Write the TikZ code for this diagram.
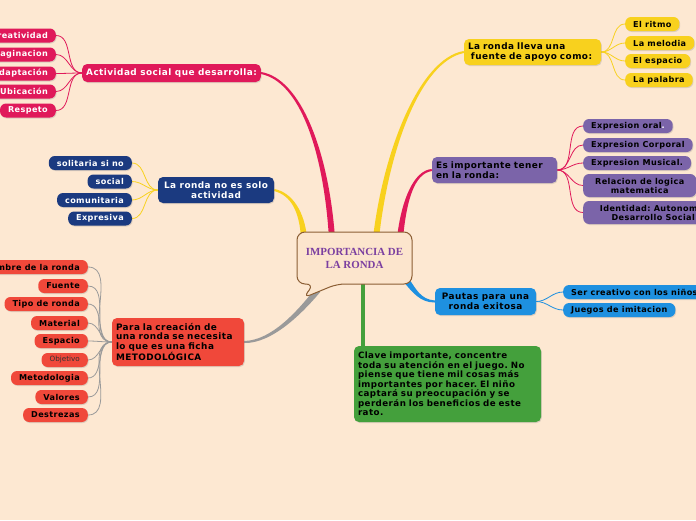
\documentclass[tikz,border=0pt]{standalone}
\usepackage{fontspec}
\newfontfamily\hvy{DejaVu Sans}[LetterSpace=5]
\newfontfamily\rgl{DejaVu Sans}
\newfontfamily\bub{Liberation Serif}
\usetikzlibrary{shadows,calc}
\frenchspacing
\definecolor{bgc}{HTML}{FDE8D2}
\definecolor{crim}{HTML}{E0195A}
\definecolor{navy}{HTML}{1B3A80}
\definecolor{redb}{HTML}{F0483A}
\definecolor{yel}{HTML}{F8D11E}
\definecolor{purp}{HTML}{7B64A9}
\definecolor{blu}{HTML}{1E90E0}
\definecolor{grn}{HTML}{44A03C}
\definecolor{gry}{HTML}{9A9A9A}
\definecolor{bubf}{HTML}{FCE5CD}
\definecolor{bubd}{HTML}{8B5E34}
\definecolor{bubt}{HTML}{7B3FA0}
\pgfdeclarelayer{bgl}
\pgfsetlayers{bgl,main}
\tikzset{
  shad/.style={drop shadow={opacity=0.25,shadow xshift=0.8pt,shadow yshift=-1pt}},
  kid/.style={shad,rounded corners=6pt,inner xsep=8pt,inner ysep=0pt,minimum height=14pt,
    font=\hvy\bfseries\fontsize{8.1}{8.5}\selectfont},
  kid2/.style={shad,rounded corners=6pt,inner xsep=6pt,inner ysep=0pt,align=center,
    font=\hvy\bfseries\fontsize{8.1}{9}\selectfont},
  mainb/.style={shad,rounded corners=5pt,inner sep=4pt,inner ysep=0pt,
    font=\hvy\bfseries\fontsize{8.9}{9.5}\selectfont},
  thin/.style={line width=0.8pt},
}
% tapered branch: colour, start, control 1, control 2, end
\newcommand\tbranch[5]{%
  \fill[#1] ($(#2)!1pt!90:(#3)$) .. controls ($(#3)!1.6pt!-90:(#2)$) and ($(#4)!2.6pt!90:(#5)$) .. ($(#5)!3pt!-90:(#4)$)
    -- ($(#5)!3pt!90:(#4)$) .. controls ($(#4)!2.6pt!-90:(#5)$) and ($(#3)!1.6pt!90:(#2)$) .. ($(#2)!1pt!-90:(#3)$) -- cycle;}
\begin{document}
\begin{tikzpicture}[x=1pt,y=-1pt]
\begin{pgfonlayer}{bgl}
\fill[bgc] (0,0) rectangle (696,520);
\end{pgfonlayer}
\useasboundingbox (0,0) rectangle (696,520);

% ---------- Actividad social group
\node[mainb,fill=crim,text=white,minimum width=177pt,minimum height=18pt] (act) at (171.5,73) {Actividad social que desarrolla:};
\node[kid,fill=crim,text=white,anchor=east] (a1) at (56,35.5) {Creatividad};
\node[kid,fill=crim,text=white,anchor=east] (a2) at (56,54.5) {Imaginacion};
\node[kid,fill=crim,text=white,anchor=east] (a3) at (56,73.5) {Adaptación};
\node[kid,fill=crim,text=white,anchor=east] (a4) at (56,91.5) {Ubicación};
\node[kid,fill=crim,text=white,anchor=east] (a5) at (56,110.5) {Respeto};

% ---------- La ronda no es solo
\node[mainb,fill=navy,text=white,minimum width=116pt,minimum height=26pt,align=center] (nav) at (216,190) {La ronda no es solo\\actividad};
\node[kid,fill=navy,text=white,anchor=east] (n1) at (132,163) {solitaria si no};
\node[kid,fill=navy,text=white,anchor=east] (n2) at (132,181.5) {social};
\node[kid,fill=navy,text=white,anchor=east] (n3) at (132,200) {comunitaria};
\node[kid,fill=navy,text=white,anchor=east] (n4) at (132,218.5) {Expresiva};

% ---------- Ficha metodologica
\node[mainb,fill=redb,text=black,minimum width=130pt,minimum height=48pt,text width=124pt,align=left] (fic) at (178,342) {Para la creación de\\una ronda se necesita\\lo que es una ficha\\METODOLÓGICA};
\node[kid,fill=redb,text=black,anchor=east] (r1) at (88,267) {Nombre de la ronda};
\node[kid,fill=redb,text=black,anchor=east] (r2) at (88,286) {Fuente};
\node[kid,fill=redb,text=black,anchor=east] (r3) at (88,304) {Tipo de ronda};
\node[kid,fill=redb,text=black,anchor=east] (r4) at (88,323) {Material};
\node[kid,fill=redb,text=black,anchor=east] (r5) at (88,341) {Espacio};
\node[kid,fill=redb,text=black!80,anchor=east,font=\rgl\fontsize{7.2}{8}\selectfont] (r6) at (88,360) {Objetivo};
\node[kid,fill=redb,text=black,anchor=east] (r7) at (88,378) {Metodologia};
\node[kid,fill=redb,text=black,anchor=east] (r8) at (88,397) {Valores};
\node[kid,fill=redb,text=black,anchor=east] (r9) at (88,415) {Destrezas};

% ---------- La ronda lleva
\node[mainb,fill=yel,text=black,minimum width=135pt,minimum height=26pt,text width=129pt,align=left] (lle) at (532.5,52) {La ronda lleva una\\\ fuente de apoyo como:};
\node[kid,fill=yel,text=black,anchor=west] (y1) at (625,24) {El ritmo};
\node[kid,fill=yel,text=black,anchor=west] (y2) at (625,43) {La melodia};
\node[kid,fill=yel,text=black,anchor=west] (y3) at (625,61) {El espacio};
\node[kid,fill=yel,text=black,anchor=west] (y4) at (625,80) {La palabra};

% ---------- Es importante tener
\node[mainb,fill=purp,text=black,minimum width=123pt,minimum height=26pt,text width=117pt,align=left] (imp) at (494.5,170) {Es importante tener\\en la ronda:};
\node[kid,fill=purp,text=black,anchor=west] (p1) at (583,126) {Expresion oral\textcolor{white}{.}};
\node[kid,fill=purp,text=black,anchor=west] (p2) at (583,145) {Expresion Corporal};
\node[kid,fill=purp,text=black,anchor=west] (p3) at (583,163) {Expresion Musical.};
\node[kid2,fill=purp,text=black,anchor=west,minimum width=113pt,minimum height=23pt] (p4) at (583,185.5) {Relacion de logica\\matematica};
\node[kid2,fill=purp,text=black,anchor=west,minimum width=140pt,minimum height=23pt] (p5) at (583,212.5) {Identidad: Autonomia\\Desarrollo Social};

% ---------- Pautas
\node[mainb,fill=blu,text=black,minimum width=101pt,minimum height=27pt,align=center] (pau) at (485.5,301.5) {Pautas para una\\ronda exitosa};
\node[kid,fill=blu,text=black,anchor=west] (b1) at (563,292) {Ser creativo con los niños};
\node[kid,fill=blu,text=black,anchor=west] (b2) at (563,310) {Juegos de imitacion};

% ---------- Clave importante
\node[mainb,fill=grn,text=black,minimum width=185pt,minimum height=76pt,text width=179pt,align=left,
  font=\hvy\bfseries\fontsize{8.7}{9.45}\selectfont] (cla) at (447.5,384) {Clave importante, concentre\\toda su atención en el juego. No\\piense que tiene mil cosas más\\importantes por hacer. El niño\\captará su preocupación y se\\perderán los beneficios de este\\rato.};

% ---------- center bubble
\node[font=\bub\bfseries\fontsize{10.9}{13}\selectfont,text=bubt,align=center] (ctr) at (354.5,258) {IMPORTANCIA DE\\LA RONDA};
\coordinate (cA) at (332,238);
\coordinate (cN) at (304,238);
\coordinate (cF) at (318,290);
\coordinate (cY) at (376,238);
\coordinate (cP) at (400,238);
\coordinate (cB) at (406,280);
\coordinate (cG) at (363,280);

\begin{pgfonlayer}{bgl}
% main connectors (tapered)
\tbranch{crim}{act.east}{300,80}{326,150}{cA}
\tbranch{yel}{nav.east}{292,194}{302,212}{cN}
\tbranch{gry}{fic.east}{272,342}{300,312}{cF}
\tbranch{yel}{lle.west}{420,60}{386,150}{cY}
\tbranch{crim}{imp.west}{414,172}{404,200}{cP}
\tbranch{blu}{pau.west}{420,301}{414,290}{cB}
\draw[grn,line width=3.5pt] (cG) -- (cla.north -| cG);
% child connectors
\foreach \c in {a1,a2,a3,a4,a5} \draw[crim,thin] (act.west) to[out=180,in=0] (\c.east);
\foreach \c in {n1,n2,n3,n4} \draw[yel,thin] (nav.west) to[out=180,in=0] (\c.east);
\foreach \c in {r1,r2,r3,r4,r5,r6,r7,r8,r9} \draw[gry,thin] (fic.west) to[out=180,in=0] (\c.east);
\foreach \c in {y1,y2,y3,y4} \draw[yel,thin] (lle.east) to[out=0,in=180] (\c.west);
\foreach \c in {p1,p2,p3,p4,p5} \draw[crim,thin] (imp.east) to[out=0,in=180] (\c.west);
\foreach \c in {b1,b2} \draw[blu,thin] (pau.east) to[out=0,in=180] (\c.west);
% bubble outline (over connectors, under its text)
\filldraw[fill=bubf,draw=bubd,line width=1pt,rounded corners=8pt]
  (297,232) -- (412,232) -- (412,284) -- (337,284) -- (303,298) -- (314,284) -- (297,284) -- cycle;
\end{pgfonlayer}
\end{tikzpicture}
\end{document}
